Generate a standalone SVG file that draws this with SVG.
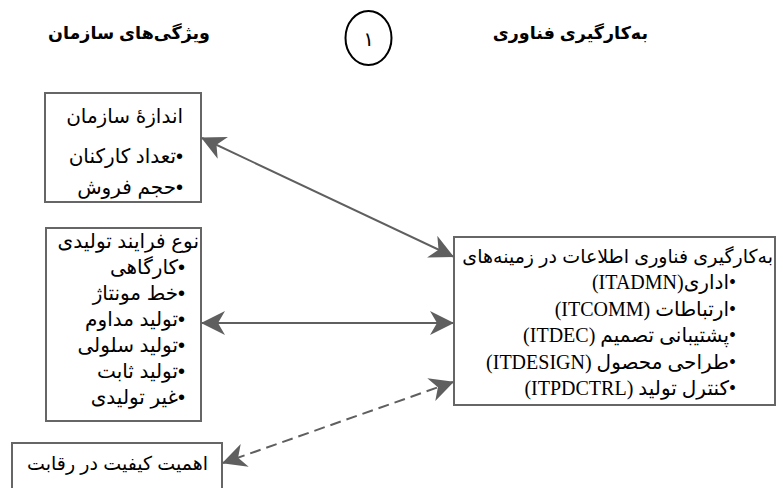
<svg xmlns="http://www.w3.org/2000/svg" width="783" height="488" viewBox="0 0 783 488">
<style>
  .box { fill: #ffffff; stroke: #666666; stroke-width: 2; }
  .fa { font-family: "Liberation Sans", "DejaVu Sans", sans-serif; font-size: 20px; fill: #000000; direction: rtl; }
  .mix { font-family: "Liberation Serif", "DejaVu Sans", serif; font-size: 20px; fill: #000000; direction: rtl; }
  .head { font-family: "Liberation Sans", "DejaVu Sans", sans-serif; font-size: 17.5px; font-weight: bold; fill: #000000; direction: rtl; }
  .conn { fill: none; stroke: #5f5f5f; stroke-width: 2; }
  .dash { stroke-dasharray: 11 6; }
</style>
<defs>
  <marker id="arr" viewBox="0 0 24 24" refX="23" refY="12" markerWidth="24" markerHeight="24" markerUnits="userSpaceOnUse" orient="auto-start-reverse">
    <path d="M24,12 L0,0 L7,12 L0,24 Z" fill="#5f5f5f"/>
  </marker>
</defs>
<rect width="783" height="488" fill="#ffffff"/>

<g id="header-org">
  <text class="head" x="210" y="39" text-anchor="start">ویژگی‌های سازمان</text>
</g>
<g id="header-it">
  <text class="head" x="648" y="39" text-anchor="start">به‌کارگیری فناوری</text>
</g>
<g id="number-1">
  <ellipse cx="368.5" cy="38" rx="23" ry="27" fill="none" stroke="#000000" stroke-width="2"/>
  <text x="368.5" y="46" font-family="DejaVu Sans, sans-serif" font-size="20" text-anchor="middle">۱</text>
</g>

<g id="org-size">
  <rect class="box" x="45" y="93" width="156" height="109"/>
  <text class="fa" x="183" y="123" text-anchor="start">اندازۀ سازمان</text>
  <text class="fa" x="183" y="163" text-anchor="start">•تعداد کارکنان</text>
  <text class="fa" x="183" y="194" text-anchor="start">•حجم فروش</text>
</g>

<g id="production-type">
  <rect class="box" x="46" y="228" width="155" height="193"/>
  <text class="fa" x="199" y="248" text-anchor="start">نوع  فرایند تولیدی</text>
  <text class="fa" x="185" y="274" text-anchor="start">•کارگاهی</text>
  <text class="fa" x="185" y="300" text-anchor="start">•خط مونتاژ</text>
  <text class="fa" x="185" y="326" text-anchor="start">•تولید مداوم</text>
  <text class="fa" x="185" y="352" text-anchor="start">•تولید سلولی</text>
  <text class="fa" x="185" y="378" text-anchor="start">•تولید ثابت</text>
  <text class="fa" x="185" y="404" text-anchor="start">•غیر تولیدی</text>
</g>

<g id="quality">
  <rect class="box" x="12" y="443" width="210" height="50"/>
  <text class="fa" x="208" y="470" style="font-size:19px" text-anchor="start">اهمیت کیفیت در رقابت</text>
</g>

<g id="it-use">
  <rect class="box" x="454" y="237" width="321" height="168"/>
  <text class="fa" x="773" y="263" style="font-size:19px" text-anchor="start">به‌کارگیری فناوری اطلاعات در زمینه‌های</text>
  <text class="mix" x="736" y="289" text-anchor="start">•اداری(ITADMN)</text>
  <text class="mix" x="736" y="316" text-anchor="start">•ارتباطات (ITCOMM)</text>
  <text class="mix" x="736" y="342" text-anchor="start">•پشتیبانی تصمیم (ITDEC)</text>
  <text class="mix" x="736" y="369" text-anchor="start">•طراحی محصول (ITDESIGN)</text>
  <text class="mix" x="736" y="395" text-anchor="start">•کنترل تولید (ITPDCTRL)</text>
</g>

<g id="connectors">
  <line class="conn" x1="202" y1="138" x2="453" y2="256.5" marker-start="url(#arr)" marker-end="url(#arr)"/>
  <line class="conn" x1="202" y1="323" x2="453" y2="323" marker-start="url(#arr)" marker-end="url(#arr)"/>
  <line class="conn dash" x1="453" y1="382" x2="223" y2="463" marker-start="url(#arr)" marker-end="url(#arr)"/>
</g>
</svg>
